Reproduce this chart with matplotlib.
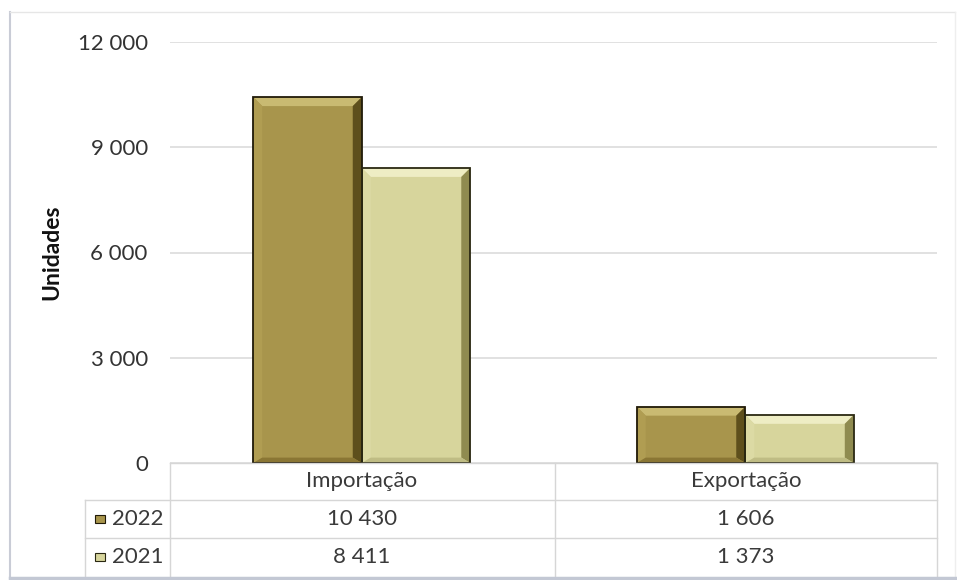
import matplotlib
matplotlib.use("Agg")
import matplotlib.pyplot as plt
from matplotlib.patches import Polygon, Rectangle
from matplotlib.lines import Line2D
import numpy as np

categories = ["Importação", "Exportação"]
series_names = ["2022", "2021"]
values_2022 = [10430, 1606]
values_2021 = [8411, 1373]
table_2022 = ["10 430", "1 606"]
table_2021 = ["8 411", "1 373"]
yticks = [0, 3000, 6000, 9000, 12000]
ytick_labels = ["0", "3 000", "6 000", "9 000", "12 000"]

W, H = 957, 580
plt.rcParams['font.family'] = ['Lato', 'DejaVu Sans']
fig = plt.figure(figsize=(W / 100, H / 100), dpi=100)
fig.patch.set_facecolor("white")

def fx(px):
    return px / W

def fy(py):
    return 1 - py / H

ax_l, ax_r, ax_t, ax_b = 170, 937, 42, 463
ax = fig.add_axes([fx(ax_l), fy(ax_b), fx(ax_r) - fx(ax_l), fy(ax_t) - fy(ax_b)])
ax.set_xlim(-0.5, 1.5)
ax.set_ylim(0, 12000)
ax.set_facecolor("none")
for s in ax.spines.values():
    s.set_visible(False)
ax.set_xticks([])
ax.set_yticks(yticks)
ax.set_yticklabels(ytick_labels, fontsize=16, color="#333333")
ax.tick_params(axis="y", length=0, pad=16)
ax.yaxis.grid(True, color="#dcdcdc", linewidth=1.2)
ax.set_axisbelow(True)
ax.set_ylabel("Unidades", fontsize=16.5, fontweight="bold", color="#111111")
ax.yaxis.set_label_coords((62 - ax_l) / (ax_r - ax_l), 0.5)

x = np.arange(len(categories))
bw = 0.283
colors = {
    "2022": dict(face="#a8954c", top="#c9ba72", left="#b09d52", right="#5e4f1c", bottom="#8a7634", edge="#201a08"),
    "2021": dict(face="#d7d59c", top="#eeedc4", left="#dcdaa4", right="#8f8b50", bottom="#bfbc84", edge="#2a2812"),
}

bars22 = ax.bar(x - bw / 2, values_2022, bw, color=colors["2022"]["face"], edgecolor="none", zorder=3)
bars21 = ax.bar(x + bw / 2, values_2021, bw, color=colors["2021"]["face"], edgecolor="none", zorder=3)

px_x = 2.0 / (ax_r - ax_l)        # data units per pixel (x)
px_y = 12000.0 / (ax_b - ax_t)    # data units per pixel (y)

def bevel(bar, c):
    x0 = bar.get_x(); w = bar.get_width(); h = bar.get_height()
    x1 = x0 + w
    bx = 9 * px_x; by = 9 * px_y
    bx = min(bx, w / 3); by = min(by, h / 3)
    bb = by * 0.6
    z = 4
    ax.add_patch(Polygon([[x0, h], [x1, h], [x1 - bx, h - by], [x0 + bx, h - by]], closed=True, fc=c["top"], ec="none", zorder=z))
    ax.add_patch(Polygon([[x0, 0], [x0, h], [x0 + bx, h - by], [x0 + bx, bb]], closed=True, fc=c["left"], ec="none", zorder=z))
    ax.add_patch(Polygon([[x1, 0], [x1, h], [x1 - bx, h - by], [x1 - bx, bb]], closed=True, fc=c["right"], ec="none", zorder=z))
    ax.add_patch(Polygon([[x0, 0], [x1, 0], [x1 - bx, bb], [x0 + bx, bb]], closed=True, fc=c["bottom"], ec="none", zorder=z))
    ax.add_patch(Rectangle((x0, 0), w, h, fc="none", ec=c["edge"], lw=1.3, zorder=z + 1))

for b in bars22:
    bevel(b, colors["2022"])
for b in bars21:
    bevel(b, colors["2021"])

# Data table
line_c = "#d6d6d6"
def hline(y, xa, xb, c=line_c, lw=1.0):
    fig.add_artist(Line2D([fx(xa), fx(xb)], [fy(y), fy(y)], color=c, lw=lw))
def vline(xp, ya, yb, c=line_c, lw=1.0):
    fig.add_artist(Line2D([fx(xp), fx(xp)], [fy(ya), fy(yb)], color=c, lw=lw))

hline(463, 170, 937)
hline(500, 85, 937)
hline(538, 85, 937)
vline(85, 500, 576)
vline(170, 463, 576)
vline(555, 463, 576)
vline(937, 463, 576)

col_centers = [362, 746]
tc = "#3a3a3a"
for cx, cat, a, b in zip(col_centers, categories, table_2022, table_2021):
    fig.text(fx(cx), fy(481), cat, ha="center", va="center", fontsize=16, color=tc)
    fig.text(fx(cx), fy(519), a, ha="center", va="center", fontsize=16, color=tc)
    fig.text(fx(cx), fy(557), b, ha="center", va="center", fontsize=16, color=tc)

for yy, name, key in [(519, series_names[0], colors["2022"]), (557, series_names[1], colors["2021"])]:
    fig.add_artist(Rectangle((fx(95), fy(yy + 4)), fx(10), fy(yy - 4) - fy(yy + 4), transform=fig.transFigure,
                             fc=key["face"], ec=key["edge"], lw=0.8))
    fig.text(fx(112), fy(yy), name, ha="left", va="center", fontsize=16, color=tc)

# Outer chart frame
vline(10, 12, 578, c="#c9ccd6", lw=1.5)
hline(12, 10, 955, c="#e6e6e6", lw=1.0)
vline(955, 12, 578, c="#eeeeee", lw=1.0)
hline(578, 10, 955, c="#c3c8d4", lw=2.5)

fig.savefig("out.png", dpi=100, facecolor="white")
